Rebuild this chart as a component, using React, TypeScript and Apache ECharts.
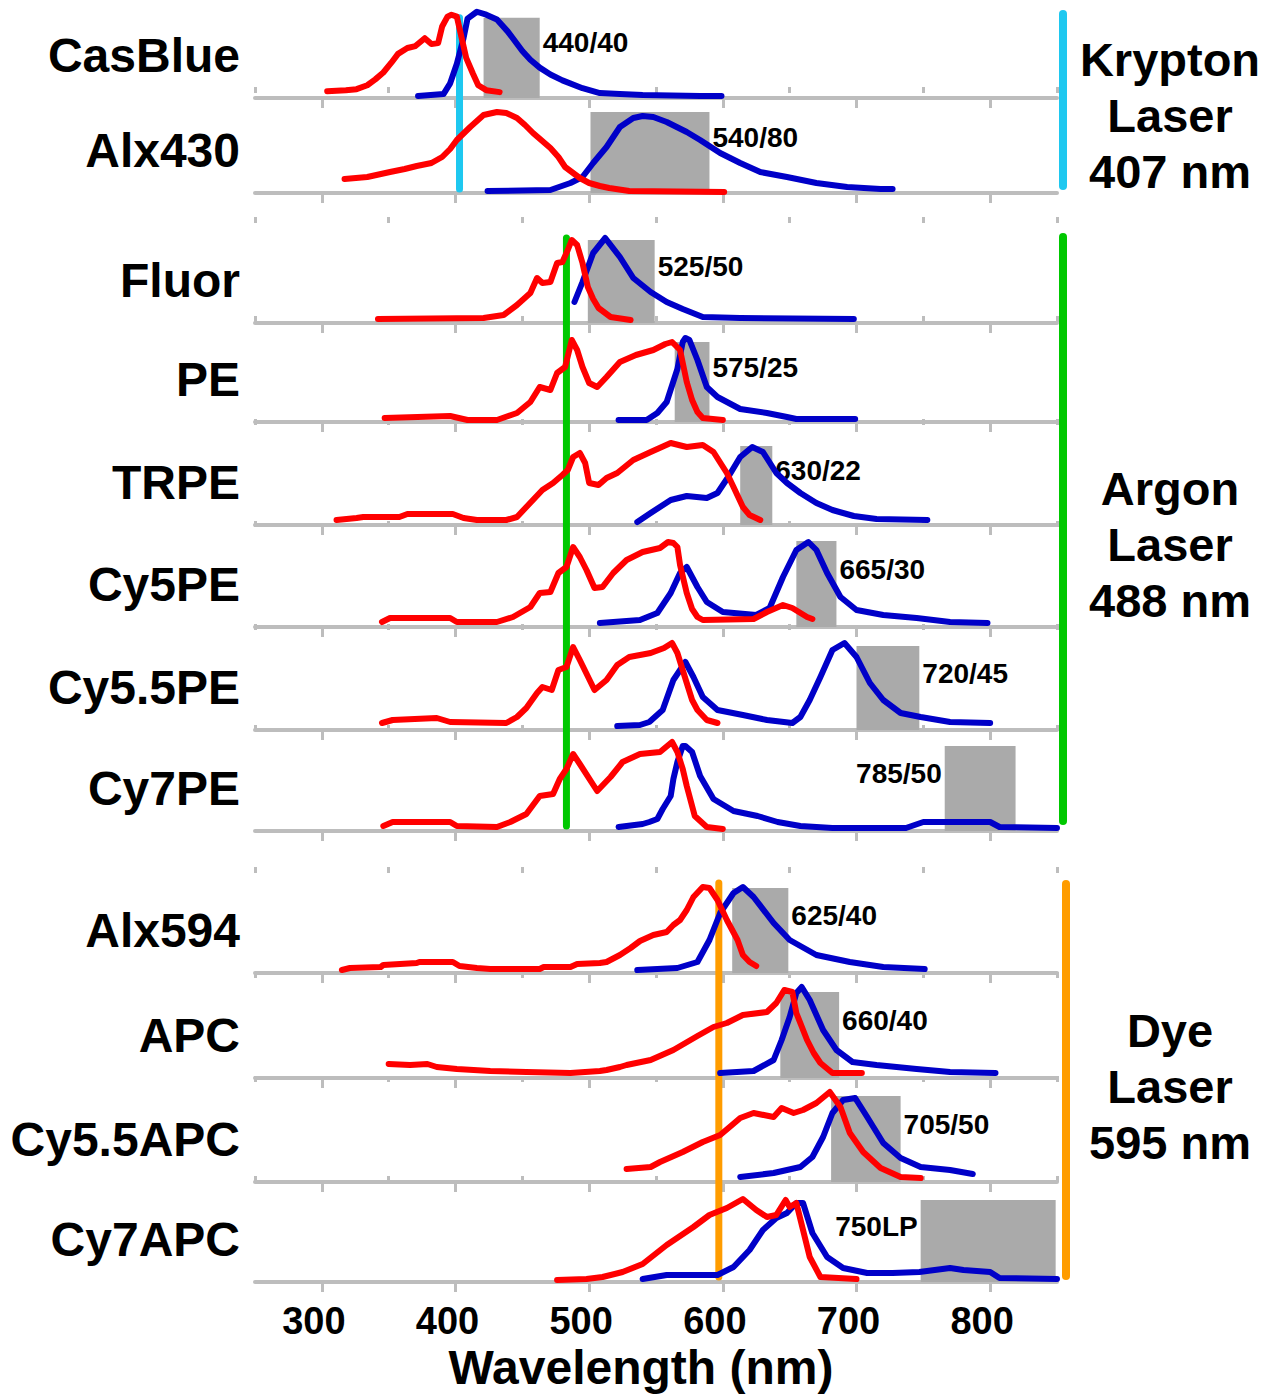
import React, { useEffect, useRef } from "react";
import * as echarts from "echarts";

// ---------------- DATA ----------------
const dyes = ["CasBlue", "Alx430", "Fluor", "PE", "TRPE", "Cy5PE", "Cy5.5PE", "Cy7PE", "Alx594", "APC", "Cy5.5APC", "Cy7APC"];

// excitation (red) spectra: [wavelength nm, relative intensity]
const casBlueEx = [[304,7],[318,8],[326,9],[334,13],[340,19],[346,26],[352,36],[357,45],[364,51],[370,53],[377,61],[382,55],[387,56],[390,73],[394,83],[397,85],[401,83],[404,65],[408,41],[413,25],[417,13],[423,8],[433,6]];
const alx430Ex = [[317,14],[334,16],[351,21],[362,24],[371,27],[382,30],[390,36],[396,44],[401,53],[411,66],[421,78],[431,81],[438,80],[446,75],[452,68],[458,60],[471,45],[477,36],[482,26],[493,15],[500,10],[508,7],[515,5],[530,2],[601,1]];
const fluorEx = [[342,4],[421,5],[436,8],[446,18],[456,30],[461,45],[465,40],[471,41],[476,60],[480,61],[484,73],[487,83],[491,78],[495,60],[499,36],[503,24],[507,15],[516,6],[531,3]];
const peEx = [[347,4],[396,6],[409,2],[431,2],[446,9],[456,20],[463,35],[471,32],[476,49],[482,55],[487,82],[491,72],[495,55],[500,39],[506,35],[513,45],[523,60],[535,67],[548,72],[557,78],[562,80],[568,72],[573,40],[577,22],[581,10],[585,4],[600,2]];
const trpeEx = [[311,5],[326,7],[331,8],[358,8],[364,11],[398,11],[406,7],[416,5],[438,5],[446,8],[453,18],[465,35],[473,42],[480,50],[484,55],[488,68],[493,72],[497,62],[500,42],[507,40],[513,47],[521,52],[533,65],[546,73],[561,82],[573,78],[585,80],[593,73],[603,52],[608,38],[615,18],[620,10],[628,5]];
const cy5peEx = [[345,5],[351,9],[396,9],[401,5],[431,5],[443,10],[456,20],[463,34],[471,35],[477,54],[483,60],[488,80],[493,70],[498,57],[504,39],[510,40],[518,54],[528,67],[540,75],[553,79],[559,85],[563,84],[566,80],[568,62],[573,34],[577,18],[581,10],[585,7],[623,8],[633,15],[645,22],[652,19],[663,10],[667,8]];
const cy55peEx = [[345,7],[353,10],[386,12],[396,8],[438,7],[446,13],[453,22],[461,37],[465,43],[472,40],[477,60],[483,63],[488,83],[493,70],[504,40],[513,50],[521,65],[530,73],[546,77],[556,82],[562,87],[566,77],[573,47],[577,30],[581,20],[588,10],[596,7]];
const cy7peEx = [[346,5],[353,9],[396,9],[401,5],[431,4],[441,9],[453,17],[463,35],[473,37],[478,52],[483,62],[488,77],[493,67],[506,40],[516,54],[525,69],[538,77],[553,79],[562,89],[566,79],[570,62],[573,45],[579,15],[588,4],[600,2]];
const alx594Ex = [[315,3],[321,5],[344,6],[346,8],[371,10],[373,11],[398,11],[403,7],[416,5],[426,4],[463,4],[466,6],[486,6],[491,9],[508,10],[513,11],[523,18],[531,25],[538,32],[548,38],[558,41],[563,48],[568,53],[573,63],[578,76],[585,86],[590,85],[596,73],[603,53],[611,33],[615,18],[620,11],[625,7]];
const apcEx = [[350,14],[366,13],[379,14],[386,11],[401,9],[426,7],[453,6],[486,5],[508,7],[513,8],[523,11],[528,13],[546,18],[563,28],[581,42],[593,51],[603,55],[615,63],[633,66],[640,75],[646,88],[652,86],[655,65],[663,38],[668,25],[673,15],[682,5],[704,5]];
const cy55apcEx = [[528,13],[546,15],[553,20],[570,30],[585,40],[598,47],[606,56],[613,64],[623,69],[638,65],[644,74],[653,69],[660,72],[670,79],[680,90],[688,75],[695,49],[705,30],[718,14],[733,5],[748,4]];
const cy7apcEx = [[476,2],[498,3],[510,5],[525,10],[540,18],[558,37],[578,55],[590,67],[603,74],[615,83],[625,72],[633,65],[640,67],[647,82],[650,75],[655,79],[660,52],[665,25],[673,5],[700,3]];

// emission (blue) spectra
const casBlueEm = [[372,2],[391,4],[396,15],[401,35],[406,61],[409,81],[416,88],[423,85],[431,80],[439,68],[450,48],[456,39],[463,31],[471,24],[480,18],[495,10],[508,5],[523,4],[540,3],[583,2],[599,2]];
const alx430Em = [[424,2],[471,3],[486,10],[495,16],[503,30],[513,46],[523,66],[533,75],[540,77],[548,76],[558,71],[573,61],[583,53],[598,40],[613,30],[628,21],[648,16],[670,10],[693,6],[718,4],[727,4]];
const fluorEm = [[489,21],[495,41],[503,70],[512,85],[523,66],[533,45],[546,31],[558,21],[570,14],[585,6],[613,5],[698,4]];
const peEm = [[522,2],[543,2],[551,9],[558,20],[566,53],[570,80],[572,84],[575,82],[581,62],[588,35],[596,25],[613,13],[633,9],[648,5],[655,3],[699,3]];
const trpeEm = [[536,3],[546,12],[561,25],[573,29],[588,27],[596,32],[604,48],[613,68],[622,78],[630,73],[640,52],[648,42],[658,32],[670,22],[682,15],[698,9],[715,6],[753,5]];
const cy5peEm = [[508,4],[538,7],[551,14],[561,34],[568,54],[573,60],[581,40],[588,25],[600,15],[625,12],[635,19],[645,50],[655,77],[664,85],[670,77],[678,54],[688,30],[700,17],[720,12],[745,9],[770,5],[798,4]];
const cy55peEm = [[521,4],[538,5],[545,8],[555,20],[563,50],[572,68],[578,53],[585,33],[596,20],[615,15],[633,10],[652,7],[658,13],[665,30],[673,53],[682,80],[691,87],[700,73],[710,47],[720,30],[733,17],[748,13],[770,8],[800,7]];
const cy7peEm = [[522,4],[540,7],[545,9],[551,12],[555,22],[561,35],[563,52],[566,69],[570,85],[572,85],[577,79],[583,55],[593,32],[608,20],[626,15],[641,9],[658,5],[682,3],[737,3],[750,9],[800,9],[807,4],[850,3]];
const alx594Em = [[536,3],[566,5],[581,11],[590,33],[598,60],[608,80],[615,86],[623,76],[638,50],[650,33],[670,18],[695,11],[720,6],[751,4]];
const apcEm = [[598,5],[623,7],[638,18],[644,38],[650,61],[655,85],[659,91],[665,78],[675,48],[685,28],[697,16],[715,13],[745,9],[770,6],[804,5]];
const cy55apcEm = [[613,5],[638,9],[658,15],[667,25],[675,45],[682,69],[690,82],[699,84],[708,65],[720,39],[733,24],[748,15],[770,12],[787,8]];
const cy7apcEm = [[540,3],[558,7],[596,7],[608,15],[620,32],[630,52],[640,64],[648,69],[655,79],[660,79],[667,49],[678,25],[690,14],[708,9],[727,9],[747,10],[770,14],[780,12],[800,10],[807,4],[850,3]];

const excitation = [casBlueEx, alx430Ex, fluorEx, peEx, trpeEx, cy5peEx, cy55peEx, cy7peEx, alx594Ex, apcEx, cy55apcEx, cy7apcEx];
const emission = [casBlueEm, alx430Em, fluorEm, peEm, trpeEm, cy5peEm, cy55peEm, cy7peEm, alx594Em, apcEm, cy55apcEm, cy7apcEm];

// emission filters (gray boxes)
const filterNames = ["440/40", "540/80", "525/50", "575/25", "630/22", "665/30", "720/45", "785/50", "625/40", "660/40", "705/50", "750LP"];
const filterFrom = [421, 501, 499, 564, 613, 655, 700, 766, 607, 643, 681, 748];
const filterTo = [463, 590, 549, 590, 637, 685, 747, 819, 649, 687, 733, 849];
const filterTop = [82, 81, 83, 80, 79, 86, 84, 85, 85, 86, 86, 82];
const filterLabelSide = ["right", "right", "right", "right", "right", "right", "right", "left", "right", "right", "right", "left"];

// lasers
const laserNames = ["Krypton\nLaser\n407 nm", "Argon\nLaser\n488 nm", "Dye\nLaser\n595 nm"];
const laserLineNm = [403, 483, 597];
const laserRows = [[0, 1], [2, 7], [8, 11]];
const laserTopValue = [82, 85, 90];
const laserBottomValue = [4, 5, 5];

const tickLabels = [300, 400, 500, 600, 700, 800];
const minorTickValues = [250, 350, 450, 550, 650, 750, 850];

// ---------------- LAYOUT / STYLE ----------------
const FONT = '"Liberation Sans", Arial, Helvetica, sans-serif';
const BASELINES = [98, 193, 323, 422, 525, 627, 730, 831, 973, 1078, 1182, 1282];
const PLOT_LEFT = 255;
const PLOT_WIDTH = 802;
const ROW_H = 100;
const AXIS_GRAY = "#BDBDBD";
const RED = "#FF0000";
const BLUE = "#0000C8";
const BOX_GRAY = "#AAAAAA";
const laserColors = ["#1EC8F0", "#00C800", "#FF9C00"];
const barX = [1063, 1063, 1066];
const barY = [[14, 186], [237, 821], [884, 1276]];
const laserLabelY = [115, 544, 1086];

function buildOption() {
  const n = dyes.length;
  const grid: any[] = [];
  const xAxis: any[] = [];
  const yAxis: any[] = [];
  const series: any[] = [];
  for (let i = 0; i < n; i++) {
    grid.push({ left: PLOT_LEFT, width: PLOT_WIDTH, top: BASELINES[i] - ROW_H, height: ROW_H, containLabel: false });
    const last = i === n - 1;
    xAxis.push({
      type: "value",
      gridIndex: i,
      min: 250,
      max: 850,
      interval: 50,
      axisLine: { show: true, onZero: false, lineStyle: { color: AXIS_GRAY, width: 4 } },
      axisTick: { show: true, customValues: tickLabels, length: 10, lineStyle: { color: AXIS_GRAY, width: 3 } },
      axisLabel: last
        ? {
            show: true,
            customValues: tickLabels,
            color: "#000",
            fontSize: 38,
            fontWeight: "bold",
            fontFamily: FONT,
            margin: 20,
            padding: [0, 16, 0, 0],
          }
        : { show: false },
      splitLine: { show: false },
      z: 0,
    });
    yAxis.push({ type: "value", gridIndex: i, min: 0, max: 100, show: false, splitLine: { show: false } });
  }
  for (let i = 0; i < n; i++) {
    xAxis.push({
      type: "value",
      gridIndex: i,
      min: 250,
      max: 850,
      interval: 50,
      axisLine: { show: false, onZero: false },
      axisTick: { show: true, customValues: minorTickValues, length: 6, lineStyle: { color: AXIS_GRAY, width: 3 } },
      axisLabel: { show: false },
      splitLine: { show: false },
      z: 0,
    });
  }
  for (let i = 0; i < n; i++) {
    series.push({
      type: "line",
      name: dyes[i] + " filter",
      xAxisIndex: i,
      yAxisIndex: i,
      data: [],
      z: 1,
      silent: true,
      markArea: {
        silent: true,
        itemStyle: { color: BOX_GRAY, opacity: 1 },
        emphasis: { disabled: true },
        label: {
          show: true,
          position: filterLabelSide[i],
          distance: 3,
          offset: [0, -15],
          color: "#000",
          fontSize: 28,
          fontWeight: "bold",
          fontFamily: FONT,
          formatter: "{b}",
        },
        data: [[
          { name: filterNames[i], xAxis: filterFrom[i], yAxis: 0 },
          { xAxis: filterTo[i], yAxis: filterTop[i] },
        ]],
      },
    });
    series.push({
      type: "line",
      name: dyes[i] + " emission",
      xAxisIndex: i,
      yAxisIndex: i,
      data: emission[i],
      showSymbol: false,
      symbol: "none",
      z: 3,
      silent: true,
      lineStyle: { color: BLUE, width: 6, cap: "round", join: "round" },
    });
    series.push({
      type: "line",
      name: dyes[i] + " excitation",
      xAxisIndex: i,
      yAxisIndex: i,
      data: excitation[i],
      showSymbol: false,
      symbol: "none",
      z: 4,
      silent: true,
      lineStyle: { color: RED, width: 6, cap: "round", join: "round" },
    });
  }
  return {
    animation: false,
    backgroundColor: "#ffffff",
    textStyle: { fontFamily: FONT },
    grid,
    xAxis,
    yAxis,
    series,
  };
}

export default function App() {
  const ref = useRef<HTMLDivElement>(null);
  useEffect(() => {
    if (!ref.current) return;
    const chart = echarts.init(ref.current, undefined, { renderer: "svg" });
    chart.setOption(buildOption());

    const g: any[] = [];
    dyes.forEach((d, i) => {
      g.push({
        type: "text",
        x: 240,
        y: BASELINES[i] - 43,
        style: { text: d, fill: "#000", font: `bold 48px ${FONT}`, align: "right", verticalAlign: "middle" },
      });
    });
    laserLineNm.forEach((nm, k) => {
      const [r0, r1] = laserRows[k];
      const x = chart.convertToPixel({ xAxisIndex: r0 } as any, nm) as any as number;
      const y0 = chart.convertToPixel({ yAxisIndex: r0 } as any, laserTopValue[k]) as any as number;
      const y1 = chart.convertToPixel({ yAxisIndex: r1 } as any, laserBottomValue[k]) as any as number;
      g.push({
        type: "line",
        z: 2,
        silent: true,
        shape: { x1: x, y1: y0, x2: x, y2: y1 },
        style: { stroke: laserColors[k], lineWidth: 7, lineCap: "round" },
      });
      g.push({
        type: "line",
        z: 2,
        silent: true,
        shape: { x1: barX[k], y1: barY[k][0], x2: barX[k], y2: barY[k][1] },
        style: { stroke: laserColors[k], lineWidth: 8, lineCap: "round" },
      });
      g.push({
        type: "text",
        x: 1170,
        y: laserLabelY[k],
        style: {
          text: laserNames[k],
          fill: "#000",
          font: `bold 47px ${FONT}`,
          align: "center",
          verticalAlign: "middle",
          lineHeight: 56,
        },
      });
    });
    g.push({
      type: "text",
      x: 641,
      y: 1367,
      style: { text: "Wavelength (nm)", fill: "#000", font: `bold 48px ${FONT}`, align: "center", verticalAlign: "middle" },
    });
    chart.setOption({ graphic: { elements: g } });
    return () => chart.dispose();
  }, []);
  return (
    <div
      ref={ref}
      style={{ position: "absolute", left: 0, top: 0, width: 1276, height: 1395, background: "#fff" }}
    />
  );
}
